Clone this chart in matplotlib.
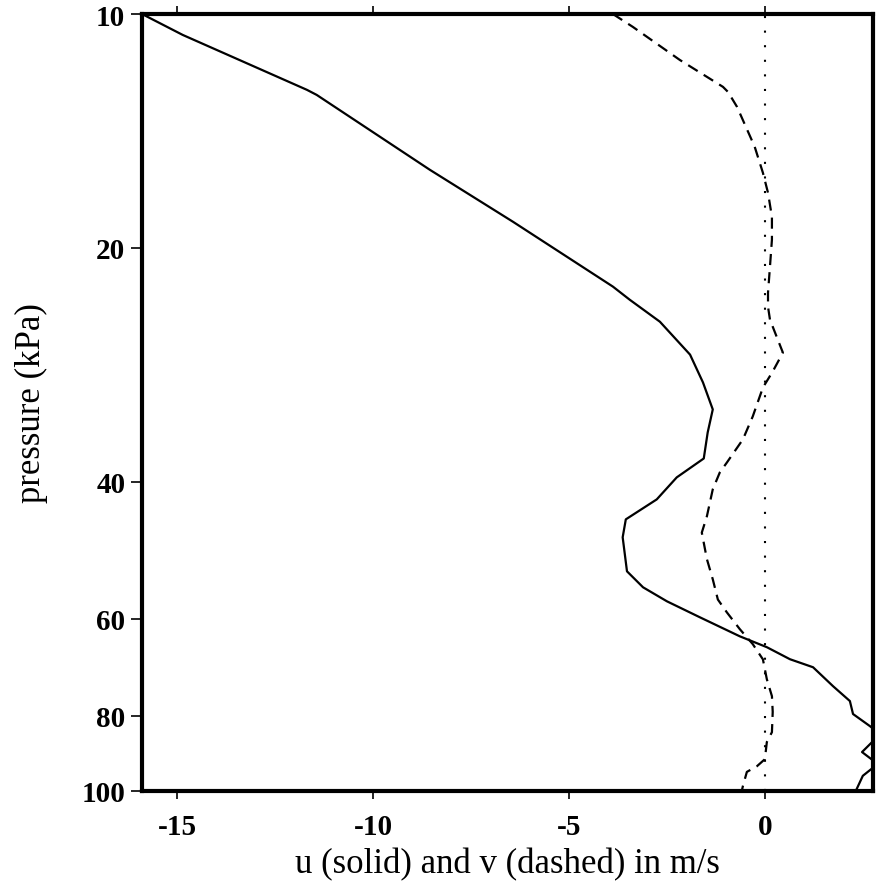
import matplotlib
matplotlib.use("Agg")
import matplotlib.pyplot as plt
from matplotlib.ticker import FixedLocator, NullLocator

# u (solid) profile
u_pressure = [10.0, 10.64, 12.52, 12.71, 15.87, 18.51, 22.43, 23.32, 24.89, 27.44,
              29.8, 32.28, 34.56, 37.33, 39.48, 42.14, 44.71, 47.15, 52.15, 54.68,
              57.0, 59.76, 63.23, 65.3, 67.67, 69.3, 73.3, 76.6, 79.6, 82.5,
              84.5, 89.1, 92.3, 95.6, 100.0]
u_wind = [-15.9, -14.86, -11.69, -11.44, -8.55, -6.43, -3.88, -3.45, -2.68, -1.91,
          -1.58, -1.33, -1.46, -1.56, -2.25, -2.76, -3.55, -3.63, -3.52, -3.11,
          -2.50, -1.66, -0.64, 0.05, 0.64, 1.23, 1.74, 2.17, 2.25, 2.68,
          2.94, 2.48, 2.88, 2.50, 2.32]

# v (dashed) profile
v_pressure = [10.0, 10.39, 11.46, 12.41, 12.6, 13.17, 14.82, 16.01, 16.99, 18.24,
              19.52, 21.14, 22.84, 23.81, 24.74, 27.28, 28.85, 30.25, 32.96, 35.27,
              37.78, 38.9, 40.9, 44.3, 46.5, 50.3, 53.4, 56.7, 58.9, 61.9,
              64.7, 67.7, 71.8, 75.5, 79.1, 84.0, 86.5, 91.0, 92.9, 94.5,
              98.5, 100.0]
v_wind = [-3.88, -3.37, -2.17, -1.07, -0.94, -0.71, -0.26, -0.05, 0.08, 0.18,
          0.18, 0.13, 0.08, 0.08, 0.13, 0.46, 0.20, -0.05, -0.31, -0.56,
          -0.97, -1.15, -1.33, -1.48, -1.61, -1.48, -1.33, -1.20, -0.97, -0.64,
          -0.31, -0.05, 0.05, 0.18, 0.20, 0.18, 0.05, 0.0, -0.20, -0.46,
          -0.56, -0.59]

x_ticks = [-15, -10, -5, 0]
y_ticks = [10, 20, 40, 60, 80, 100]
y_ticklabels = ["10", "20", "40", "60", "80", "100"]

fig = plt.figure(figsize=(8.76, 8.87), dpi=100)
W, H = 876, 887
left, right, top, bottom = 142, 873, 15, 792
ax = fig.add_axes([left / W, 1 - bottom / H, (right - left) / W, (bottom - top) / H])

ax.plot(u_wind, u_pressure, color="black", lw=1.6, solid_joinstyle="round")
ax.plot(v_wind, v_pressure, color="black", lw=1.6, linestyle=(0, (5, 3.2)))
ax.axvline(0, color="black", lw=1.5, linestyle=(0, (1, 6)))

ax.set_yscale("log")
ax.set_ylim(100, 10)
ax.set_xlim(-15.9, 2.76)

ax.yaxis.set_major_locator(FixedLocator(y_ticks))
ax.yaxis.set_minor_locator(NullLocator())
ax.set_yticklabels(y_ticklabels)
ax.set_xticks(x_ticks)
ax.set_xticklabels([str(t) for t in x_ticks])

for s in ax.spines.values():
    s.set_linewidth(3)

ax.tick_params(axis="x", direction="out", length=6, width=1.2, top=True, labeltop=False,
               pad=10)
ax.tick_params(axis="y", direction="out", length=8, width=1.2, pad=4)

for lab in ax.get_xticklabels() + ax.get_yticklabels():
    lab.set_fontfamily("Liberation Serif")
    lab.set_fontweight("bold")
    lab.set_fontsize(21)

ax.set_xlabel("u (solid) and v (dashed) in m/s", family="Liberation Serif", size=25,
              labelpad=5)
ax.set_ylabel("pressure (kPa)", family="Liberation Serif", size=25, labelpad=24)

fig.savefig("out.png", dpi=100)
